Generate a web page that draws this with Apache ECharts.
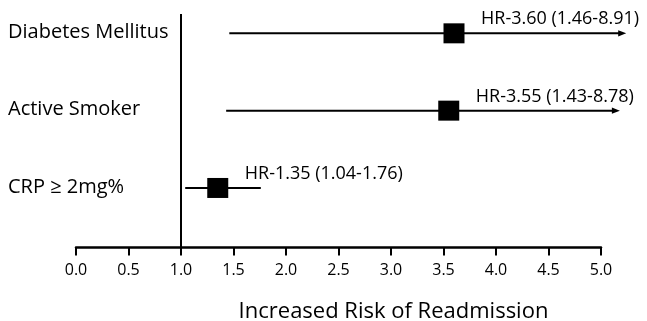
<!DOCTYPE html>
<html>
<head>
<meta charset="utf-8">
<script src="https://cdn.jsdelivr.net/npm/echarts@6/dist/echarts.min.js"></script>
<style>
  html, body { margin: 0; padding: 0; background: #fff; }
  #forest { width: 647px; height: 321px; }
</style>
</head>
<body>
<div id="forest"></div>
<script>
// rows, top to bottom
var rowNames = ['Diabetes Mellitus', 'Active Smoker', 'CRP ≥ 2mg%'];
var hazardRatios = [3.60, 3.55, 1.35];
var ciLower = [1.46, 1.43, 1.04];
var ciUpper = [8.91, 8.78, 1.76];
// where the arrows of the truncated intervals stop in the figure
var arrowEnds = [5.24, 5.18, null];

var xMin = 0, xMax = 5, xStep = 0.5;
var refLine = 1.0;

var FONT = '"Open Sans", "Noto Sans", sans-serif';

var myChart = echarts.init(document.getElementById('forest'), null, { renderer: 'canvas' });

var rows = rowNames.map(function (name, i) {
  var end = ciUpper[i] > xMax && arrowEnds[i] != null ? arrowEnds[i] : ciUpper[i];
  return [ciLower[i], hazardRatios[i], end, rowNames.length - i, i];
});

function renderRow(params, api) {
  var i = api.value(4);
  var yv = api.value(3);
  var lo = api.coord([api.value(0), yv]);
  var mid = api.coord([api.value(1), yv]);
  var hi = api.coord([api.value(2), yv]);
  var hasArrow = ciUpper[i] > xMax;
  var headLen = 8, headHalf = 3.2;
  var kids = [];

  kids.push({
    type: 'line',
    shape: { x1: lo[0], y1: lo[1], x2: hasArrow ? hi[0] - headLen + 1 : hi[0], y2: hi[1] },
    style: { stroke: '#000', lineWidth: 2 }
  });
  if (hasArrow) {
    kids.push({
      type: 'polygon',
      shape: { points: [[hi[0], hi[1]], [hi[0] - headLen, hi[1] - headHalf], [hi[0] - headLen, hi[1] + headHalf]] },
      style: { fill: '#000' }
    });
  }
  kids.push({
    type: 'rect',
    shape: { x: mid[0] - 10.5, y: mid[1] - 10, width: 21, height: 20 },
    style: { fill: '#000' }
  });
  kids.push({
    type: 'text',
    style: {
      text: 'HR-' + hazardRatios[i].toFixed(2) + ' (' + ciLower[i].toFixed(2) + '-' + ciUpper[i].toFixed(2) + ')',
      x: mid[0] + 27, y: mid[1] - 14,
      fill: '#000', fontSize: 18, fontFamily: FONT,
      align: 'left', verticalAlign: 'middle'
    }
  });
  kids.push({
    type: 'text',
    style: {
      text: rowNames[i],
      x: 8, y: mid[1] - 1,
      fill: '#000', fontSize: 20, fontFamily: FONT,
      align: 'left', verticalAlign: 'middle'
    }
  });
  return { type: 'group', children: kids };
}

var option = {
  animation: false,
  backgroundColor: '#fff',
  grid: { left: 76, right: 46, top: 14, bottom: 73.5, containLabel: false, outerBoundsMode: 'none' },
  xAxis: {
    type: 'value',
    min: xMin,
    max: xMax,
    interval: xStep,
    splitLine: { show: false },
    axisLine: { show: true, onZero: false, lineStyle: { color: '#000', width: 2.5 } },
    axisTick: { show: true, length: 8, lineStyle: { color: '#000', width: 2 } },
    axisLabel: {
      margin: 15,
      color: '#000',
      fontSize: 16,
      fontFamily: FONT,
      formatter: function (v) { return v.toFixed(1); }
    },
    name: 'Increased Risk of Readmission',
    nameLocation: 'middle',
    nameGap: 53,
    nameTextStyle: { color: '#000', fontSize: 22, fontFamily: FONT, padding: [0, 0, 0, 110] }
  },
  yAxis: {
    type: 'value',
    min: 0.23,
    max: 3.25,
    show: false
  },
  series: [{
    type: 'custom',
    renderItem: renderRow,
    data: rows,
    encode: { x: [0, 1, 2], y: 3 },
    markLine: {
      silent: true,
      symbol: 'none',
      label: { show: false },
      lineStyle: { color: '#000', width: 2, type: 'solid' },
      data: [{ xAxis: refLine }]
    }
  }]
};

myChart.setOption(option);
</script>
</body>
</html>
